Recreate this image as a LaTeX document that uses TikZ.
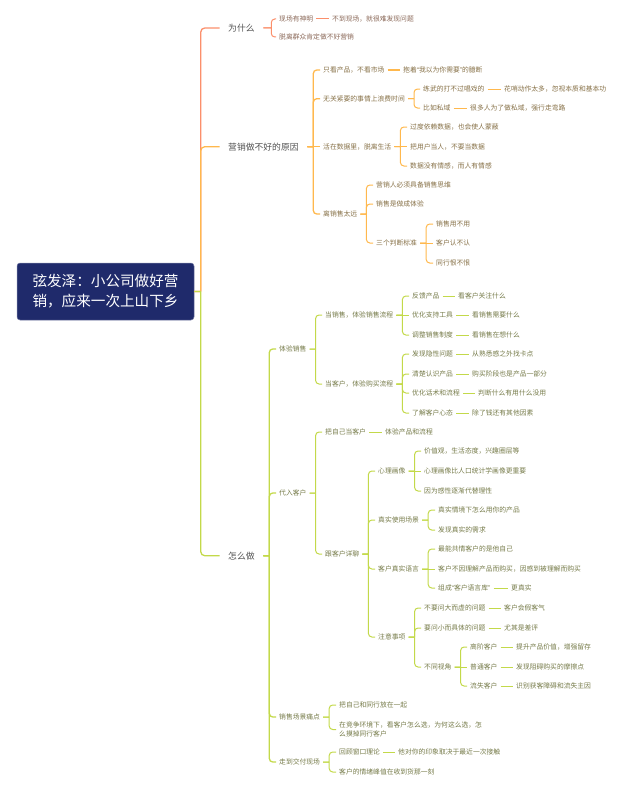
\documentclass[tikz,border=0pt]{standalone}
\usepackage{fontspec}
\setmainfont{Noto Sans CJK SC}
\newfontfamily\quotefont{Liberation Sans}

\definecolor{rootblue}{HTML}{1F2A6B}
\definecolor{lnred}{HTML}{FB8F6B}
\definecolor{lnorange}{HTML}{FFB84D}
\definecolor{lnlime}{HTML}{C3D94A}
\definecolor{txred}{HTML}{8A6858}
\definecolor{txorange}{HTML}{867046}
\definecolor{txlime}{HTML}{757A48}

\tikzset{
  rootnode/.style={draw=rootblue!60!white,line width=0.5pt,fill=rootblue,rounded corners=3pt,text=white,minimum width=177pt,minimum height=57pt,align=center,inner sep=0pt,font=\fontsize{14.6}{20}\selectfont},
  topic/.style={anchor=west,inner xsep=8.5pt,inner ysep=1pt,text=black!68,font=\fontsize{8.8}{11}\selectfont},
  itm/.style={anchor=west,inner xsep=3pt,inner ysep=1pt,align=left,font=\fontsize{6.8}{9}\selectfont},
  itmred/.style={itm,text=txred},
  itmorg/.style={itm,text=txorange},
  itmlime/.style={itm,text=txlime},
  lnmain/.style={line width=1.3pt,rounded corners=4pt},
  lnr/.style={draw=lnred,line width=1pt,rounded corners=3.5pt},
  lno/.style={draw=lnorange,line width=1pt,rounded corners=3.5pt},
  lnothick/.style={draw=lnorange,line width=1.3pt,rounded corners=3.5pt},
  lnl/.style={draw=lnlime,line width=1pt,rounded corners=3.5pt},
  lnlthick/.style={draw=lnlime,line width=1.3pt,rounded corners=3.5pt},
}

\begin{document}
\begin{tikzpicture}[x=1pt,y=1pt,yscale=-1,xscale=1]
\useasboundingbox (0,0) rectangle (626,792);

% Root
\node [rootnode] (root) at (105.5,291.5) {弦发泽：小公司做好营\\销，应来一次上山下乡};

% Topics
\node [topic] (why) at (219.5,28) {为什么};
\node [topic] (reason) at (219.5,146.7) {营销做不好的原因};
\node [topic] (how) at (219.5,555.7) {怎么做};

% Why
\node [itmred] (w1) at (276,19) {现场有神明};
\node [itmred] (w1a) at (329,19) {不到现场，就很难发现问题};
\node [itmred] (w2) at (276,37) {脱离群众肯定做不好营销};

% Reasons
\node [itmorg] (r1) at (320,70) {只看产品，不看市场};
\node [itmorg] (r1a) at (400,70) {抱着{\quotefont “}我以为你需要{\quotefont ”}的臆断};
\node [itmorg] (r2) at (320,98.7) {无关紧要的事情上浪费时间};
\node [itmorg] (r2a) at (420,89) {练武的打不过唱戏的};
\node [itmorg] (r2a1) at (501,89) {花哨动作太多，忽视本质和基本功};
\node [itmorg] (r2b) at (420,108) {比如私域};
\node [itmorg] (r2b1) at (467,108) {很多人为了做私域，强行走弯路};
\node [itmorg] (r3) at (320,146.7) {活在数据里，脱离生活};
\node [itmorg] (r3a) at (407,127) {过度依赖数据，也会使人蒙蔽};
\node [itmorg] (r3b) at (407,146.7) {把用户当人，不要当数据};
\node [itmorg] (r3c) at (407,166) {数据没有情感，而人有情感};
\node [itmorg] (r4) at (320,214) {离销售太远};
\node [itmorg] (r4a) at (373,185) {营销人必须具备销售思维};
\node [itmorg] (r4b) at (373,204) {销售是做成体验};
\node [itmorg] (r4c) at (373,243) {三个判断标准};
\node [itmorg] (r4c1) at (433,224) {销售用不用};
\node [itmorg] (r4c2) at (433,243) {客户认不认};
\node [itmorg] (r4c3) at (433,263) {同行恨不恨};

% How
\node [itmlime] (h1) at (276,349) {体验销售};
\node [itmlime] (h1a) at (322,315) {当销售，体验销售流程};
\node [itmlime] (h1a1) at (409,296) {反馈产品};
\node [itmlime] (h1a1x) at (455,296) {看客户关注什么};
\node [itmlime] (h1a2) at (409,315) {优化支持工具};
\node [itmlime] (h1a2x) at (469,315) {看销售需要什么};
\node [itmlime] (h1a3) at (409,335) {调整销售制度};
\node [itmlime] (h1a3x) at (469,335) {看销售在想什么};
\node [itmlime] (h1b) at (322,384) {当客户，体验购买流程};
\node [itmlime] (h1b1) at (409,354) {发现隐性问题};
\node [itmlime] (h1b1x) at (469,354) {从熟悉感之外找卡点};
\node [itmlime] (h1b2) at (409,374) {清楚认识产品};
\node [itmlime] (h1b2x) at (469,374) {购买阶段也是产品一部分};
\node [itmlime] (h1b3) at (409,393) {优化话术和流程};
\node [itmlime] (h1b3x) at (475,393) {判断什么有用什么没用};
\node [itmlime] (h1b4) at (409,413) {了解客户心态};
\node [itmlime] (h1b4x) at (469,413) {除了钱还有其他因素};

\node [itmlime] (h2) at (276,493) {代入客户};
\node [itmlime] (h2a) at (322,432) {把自己当客户};
\node [itmlime] (h2a1) at (382,432) {体验产品和流程};
\node [itmlime] (h2b) at (322,554) {跟客户详聊};
\node [itmlime] (p1) at (375,471) {心理画像};
\node [itmlime] (p1a) at (421,451) {价值观，生活态度，兴趣圈层等};
\node [itmlime] (p1b) at (421,471) {心理画像比人口统计学画像更重要};
\node [itmlime] (p1c) at (421,491) {因为感性逐渐代替理性};
\node [itmlime] (p2) at (375,520) {真实使用场景};
\node [itmlime] (p2a) at (435,510) {真实情境下怎么用你的产品};
\node [itmlime] (p2b) at (435,530) {发现真实的需求};
\node [itmlime] (p3) at (375,569) {客户真实语言};
\node [itmlime] (p3a) at (435,549) {最能共情客户的是他自己};
\node [itmlime] (p3b) at (435,569) {客户不因理解产品而购买，因感到被理解而购买};
\node [itmlime] (p3c) at (435,588) {组成{\quotefont “}客户语言库{\quotefont ”}};
\node [itmlime] (p3c1) at (508,588) {更真实};
\node [itmlime] (p4) at (375,637) {注意事项};
\node [itmlime] (p4a) at (421,608) {不要问大而虚的问题};
\node [itmlime] (p4a1) at (501,608) {客户会假客气};
\node [itmlime] (p4b) at (421,628) {要问小而具体的问题};
\node [itmlime] (p4b1) at (501,628) {尤其是差评};
\node [itmlime] (p4c) at (421,667) {不同视角};
\node [itmlime] (v1) at (467,647) {高阶客户};
\node [itmlime] (v1a) at (513,647) {提升产品价值，增强留存};
\node [itmlime] (v2) at (467,667) {普通客户};
\node [itmlime] (v2a) at (513,667) {发现阻碍购买的摩擦点};
\node [itmlime] (v3) at (467,686) {流失客户};
\node [itmlime] (v3a) at (513,686) {识别获客障碍和流失主因};

\node [itmlime] (h3) at (276,717) {销售场景痛点};
\node [itmlime] (h3a) at (336,705) {把自己和同行放在一起};
\node [itmlime] (h3b) at (336,729.5) {在竞争环境下，看客户怎么选，为何这么选，怎\\么摸掉同行客户};
\node [itmlime] (h4) at (276,762) {走到交付现场};
\node [itmlime] (h4a) at (336,752) {回顾窗口理论};
\node [itmlime] (h4a1) at (395,752) {他对你的印象取决于最近一次接触};
\node [itmlime] (h4b) at (336,772) {客户的情绪峰值在收到货那一刻};

% Main branches
\draw [lnmain,draw=lnred] (root.east) -- ++(6.5,0) ++(0,0) |- (why.west);
\draw [lnmain,draw=lnorange] (root.east) -- ++(6.5,0) ++(0,0) |- (reason.west);
\draw [lnmain,draw=lnlime] (root.east) -- ++(6.5,0) ++(0,0) |- (how.west);

% Why lines
\draw [lnr] (why.east) -- ++(8,0) ++(0,0) |- (w1.west);
\draw [lnr] (why.east) -- ++(8,0) ++(0,0) |- (w2.west);
\draw [lnr] (w1.east) -- (w1a.west);

% Reason lines
\draw [lnothick] (reason.east) -- ++(6,0) ++(0,0) |- (r1.west);
\draw [lnothick] (reason.east) -- ++(6,0) ++(0,0) |- (r2.west);
\draw [lnothick] (reason.east) -- (r3.west);
\draw [lnothick] (reason.east) -- ++(6,0) ++(0,0) |- (r4.west);
\draw [lno] (r1.east) -- (r1a.west);
\draw [lno] (r2.east) -- ++(6,0) ++(0,0) |- (r2a.west);
\draw [lno] (r2.east) -- ++(6,0) ++(0,0) |- (r2b.west);
\draw [lno] (r2a.east) -- (r2a1.west);
\draw [lno] (r2b.east) -- (r2b1.west);
\draw [lno] (r3.east) -- ++(6,0) ++(0,0) |- (r3a.west);
\draw [lno] (r3.east) -- (r3b.west);
\draw [lno] (r3.east) -- ++(6,0) ++(0,0) |- (r3c.west);
\draw [lno] (r4.east) -- ++(6,0) ++(0,0) |- (r4a.west);
\draw [lno] (r4.east) -- ++(6,0) ++(0,0) |- (r4b.west);
\draw [lno] (r4.east) -- ++(6,0) ++(0,0) |- (r4c.west);
\draw [lno] (r4c.east) -- ++(6,0) ++(0,0) |- (r4c1.west);
\draw [lno] (r4c.east) -- (r4c2.west);
\draw [lno] (r4c.east) -- ++(6,0) ++(0,0) |- (r4c3.west);

% How lines
\draw [lnlthick] (how.east) -- ++(6,0) ++(0,0) |- (h1.west);
\draw [lnlthick] (how.east) -- ++(6,0) ++(0,0) |- (h2.west);
\draw [lnlthick] (how.east) -- ++(6,0) ++(0,0) |- (h3.west);
\draw [lnlthick] (how.east) -- ++(6,0) ++(0,0) |- (h4.west);
\draw [lnl] (h1.east) -- ++(6,0) ++(0,0) |- (h1a.west);
\draw [lnl] (h1.east) -- ++(6,0) ++(0,0) |- (h1b.west);
\draw [lnl] (h1a.east) -- ++(6,0) ++(0,0) |- (h1a1.west);
\draw [lnl] (h1a.east) -- (h1a2.west);
\draw [lnl] (h1a.east) -- ++(6,0) ++(0,0) |- (h1a3.west);
\draw [lnl] (h1a1.east) -- (h1a1x.west);
\draw [lnl] (h1a2.east) -- (h1a2x.west);
\draw [lnl] (h1a3.east) -- (h1a3x.west);
\draw [lnl] (h1b.east) -- ++(6,0) ++(0,0) |- (h1b1.west);
\draw [lnl] (h1b.east) -- ++(6,0) ++(0,0) |- (h1b2.west);
\draw [lnl] (h1b.east) -- ++(6,0) ++(0,0) |- (h1b3.west);
\draw [lnl] (h1b.east) -- ++(6,0) ++(0,0) |- (h1b4.west);
\draw [lnl] (h1b1.east) -- (h1b1x.west);
\draw [lnl] (h1b2.east) -- (h1b2x.west);
\draw [lnl] (h1b3.east) -- (h1b3x.west);
\draw [lnl] (h1b4.east) -- (h1b4x.west);

\draw [lnl] (h2.east) -- ++(6,0) ++(0,0) |- (h2a.west);
\draw [lnl] (h2.east) -- ++(6,0) ++(0,0) |- (h2b.west);
\draw [lnl] (h2a.east) -- (h2a1.west);
\draw [lnl] (h2b.east) -- ++(6,0) ++(0,0) |- (p1.west);
\draw [lnl] (h2b.east) -- ++(6,0) ++(0,0) |- (p2.west);
\draw [lnl] (h2b.east) -- ++(6,0) ++(0,0) |- (p3.west);
\draw [lnl] (h2b.east) -- ++(6,0) ++(0,0) |- (p4.west);
\draw [lnl] (p1.east) -- ++(6,0) ++(0,0) |- (p1a.west);
\draw [lnl] (p1.east) -- (p1b.west);
\draw [lnl] (p1.east) -- ++(6,0) ++(0,0) |- (p1c.west);
\draw [lnl] (p2.east) -- ++(6,0) ++(0,0) |- (p2a.west);
\draw [lnl] (p2.east) -- ++(6,0) ++(0,0) |- (p2b.west);
\draw [lnl] (p3.east) -- ++(6,0) ++(0,0) |- (p3a.west);
\draw [lnl] (p3.east) -- (p3b.west);
\draw [lnl] (p3.east) -- ++(6,0) ++(0,0) |- (p3c.west);
\draw [lnl] (p3c.east) -- (p3c1.west);
\draw [lnl] (p4.east) -- ++(6,0) ++(0,0) |- (p4a.west);
\draw [lnl] (p4.east) -- ++(6,0) ++(0,0) |- (p4b.west);
\draw [lnl] (p4.east) -- ++(6,0) ++(0,0) |- (p4c.west);
\draw [lnl] (p4a.east) -- (p4a1.west);
\draw [lnl] (p4b.east) -- (p4b1.west);
\draw [lnl] (p4c.east) -- ++(6,0) ++(0,0) |- (v1.west);
\draw [lnl] (p4c.east) -- (v2.west);
\draw [lnl] (p4c.east) -- ++(6,0) ++(0,0) |- (v3.west);
\draw [lnl] (v1.east) -- (v1a.west);
\draw [lnl] (v2.east) -- (v2a.west);
\draw [lnl] (v3.east) -- (v3a.west);

\draw [lnl] (h3.east) -- ++(6,0) ++(0,0) |- (h3a.west);
\draw [lnl] (h3.east) -- ++(6,0) ++(0,0) |- (h3b.west);
\draw [lnl] (h4.east) -- ++(6,0) ++(0,0) |- (h4a.west);
\draw [lnl] (h4.east) -- ++(6,0) ++(0,0) |- (h4b.west);
\draw [lnl] (h4a.east) -- (h4a1.west);

\end{tikzpicture}
\end{document}
